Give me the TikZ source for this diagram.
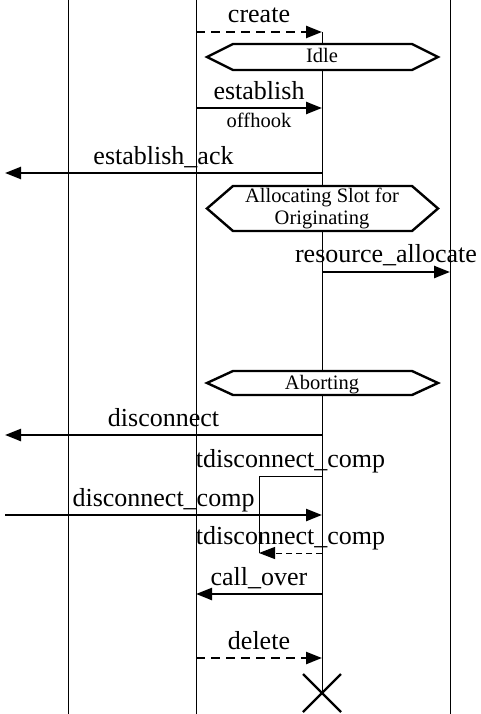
\documentclass[tikz,border=0pt]{standalone}
\usepackage{fontspec}
\setmainfont{Liberation Serif}
\usetikzlibrary{arrows.meta,positioning,calc}

\begin{document}
\begin{tikzpicture}[
    x=1pt, y=-1pt,
    life/.style={line width=0.9pt},
    msg/.style={-{Triangle[length=16pt,width=12pt]}, line width=2.4pt},
    reply/.style={msg, dash pattern=on 9pt off 6pt},
    timer/.style={-{Triangle[length=16pt,width=12pt]}, line width=1pt, dash pattern=on 6pt off 4pt},
    lbl/.style={anchor=base, inner sep=0pt, font=\fontsize{26}{28}\selectfont},
    small/.style={inner sep=0pt, align=center, font=\fontsize{20.5}{21.5}\selectfont},
    hexa/.style={line width=2.4pt, line join=miter, fill=white}
]
\useasboundingbox (0,0) rectangle (481,714);

% Lifelines
\coordinate (l1t) at (68,0);   \coordinate (l1b) at (68,714);
\coordinate (l2t) at (196,0);  \coordinate (l2b) at (196,714);
\coordinate (l3t) at (322,32); \coordinate (l3b) at (322,693);
\coordinate (l4t) at (450,0);  \coordinate (l4b) at (450,714);
\draw[life] (l1t) -- (l1b);
\draw[life] (l2t) -- (l2b);
\draw[life] (l3t) -- (l3b);
\draw[life] (l4t) -- (l4b);

% create
\coordinate (cr1) at (196,32); \coordinate (cr2) at (322,32);
\draw[reply] (cr1) -- (cr2);
\node[lbl] (create) at ($(cr1)!.5!(cr2)+(0,-9)$) {create};

% Idle
\draw[hexa] (207,57) -- (233,44) -- (412,44) -- (438,57) -- (412,70) -- (233,70) -- cycle;
\node[small, text height=15pt, text depth=3pt] (idle) at (322,57) {Idle};

% establish
\coordinate (es1) at (196,108); \coordinate (es2) at (322,108);
\draw[msg] (es1) -- (es2);
\node[lbl] (establish) at ($(es1)!.5!(es2)+(0,-8.5)$) {establish};
\node[small, anchor=base] (offhook) at ($(es1)!.5!(es2)+(0,20)$) {offhook};

% establish_ack
\coordinate (ea1) at (322,173); \coordinate (ea2) at (5,173);
\draw[msg] (ea1) -- (ea2);
\node[lbl] (establishack) at ($(ea1)!.5!(ea2)+(0,-8.5)$) {establish\_ack};

% Allocating Slot for Originating
\draw[hexa] (207,208.5) -- (233,186) -- (412,186) -- (438,208.5) -- (412,231) -- (233,231) -- cycle;
\node[small] (alloc) at (322,208.5) {Allocating Slot for\\Originating};

% resource_allocate
\coordinate (ra1) at (322,272); \coordinate (ra2) at (450,272);
\draw[msg] (ra1) -- (ra2);
\node[lbl] (resalloc) at ($(ra1)!.5!(ra2)+(0,-9.5)$) {resource\_allocate};

% Aborting
\draw[hexa] (207,383) -- (233,371) -- (412,371) -- (438,383) -- (412,395) -- (233,395) -- cycle;
\node[small, text height=15pt, text depth=3pt] (abort) at (322,383) {Aborting};

% disconnect
\coordinate (dc1) at (322,435); \coordinate (dc2) at (5,435);
\draw[msg] (dc1) -- (dc2);
\node[lbl] (disconnect) at ($(dc1)!.5!(dc2)+(0,-8.5)$) {disconnect};

% timer tdisconnect_comp
\coordinate (tm1) at (322,476); \coordinate (tm2) at (259,476);
\coordinate (tm3) at (259,553); \coordinate (tm4) at (322,553);
\draw[life] (tm1) -- (tm2) -- (tm3);
\draw[timer] (tm4) -- (tm3);
\node[lbl] (tstart) at ($(tm1)!.5!(tm2)+(0,-8.5)$) {tdisconnect\_comp};
\node[lbl] (tstop) at ($(tm3)!.5!(tm4)+(0,-8.5)$) {tdisconnect\_comp};

% disconnect_comp
\coordinate (dp1) at (5,515); \coordinate (dp2) at (322,515);
\draw[msg] (dp1) -- (dp2);
\node[lbl] (disccomp) at ($(dp1)!.5!(dp2)+(0,-8.5)$) {disconnect\_comp};

% call_over
\coordinate (co1) at (322,594); \coordinate (co2) at (196,594);
\draw[msg] (co1) -- (co2);
\node[lbl] (callover) at ($(co1)!.5!(co2)+(0,-8.5)$) {call\_over};

% delete
\coordinate (de1) at (196,658); \coordinate (de2) at (322,658);
\draw[reply] (de1) -- (de2);
\node[lbl] (delete) at ($(de1)!.5!(de2)+(0,-8.5)$) {delete};

% destroy
\draw[hexa] ($(l3b)+(-19,-19)$) -- ($(l3b)+(19,19)$);
\draw[hexa] ($(l3b)+(-19,19)$) -- ($(l3b)+(19,-19)$);
\end{tikzpicture}
\end{document}
